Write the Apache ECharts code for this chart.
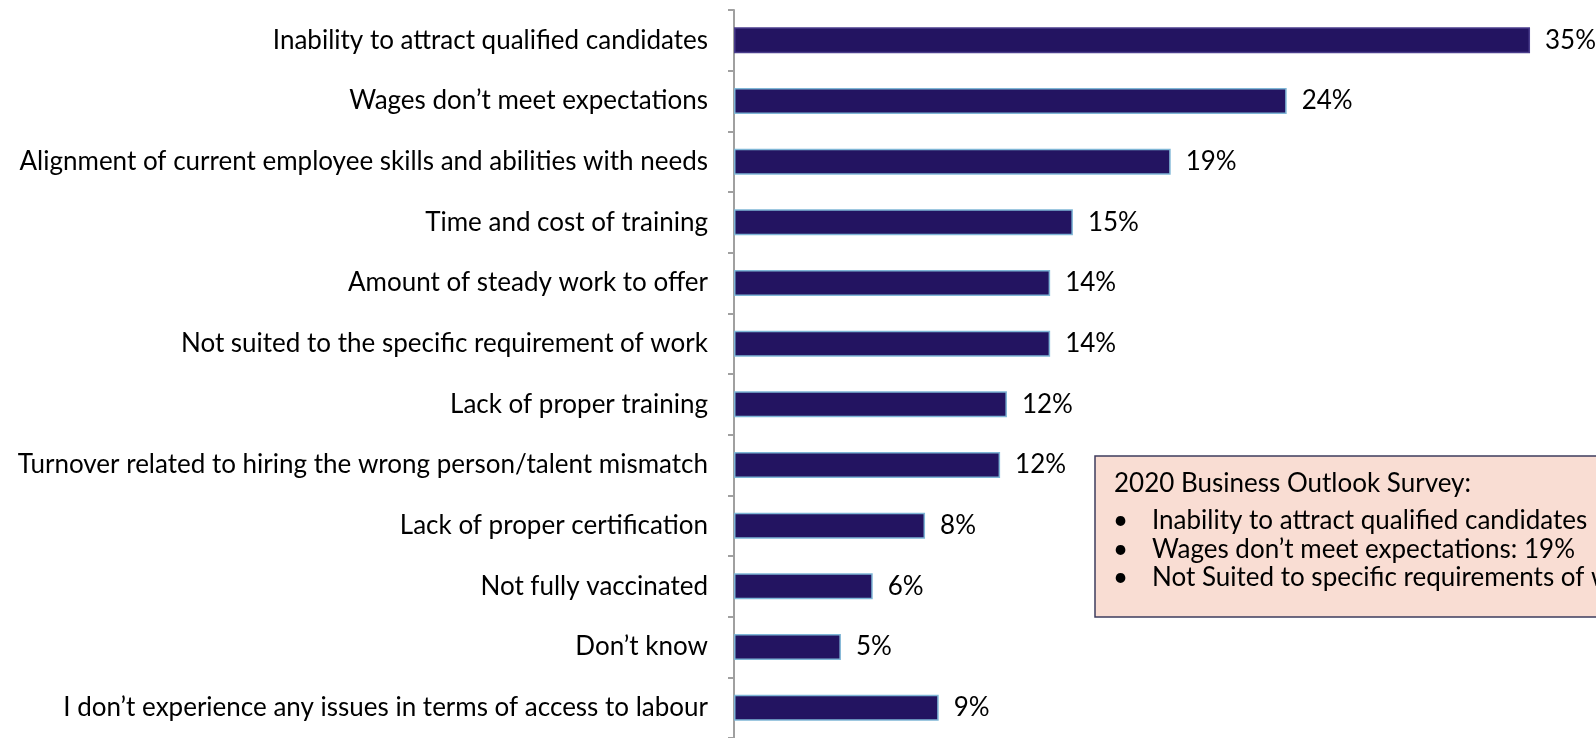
<!DOCTYPE html>
<html>
<head>
<meta charset="utf-8">
<script src="https://cdn.jsdelivr.net/npm/echarts@6/dist/echarts.min.js"></script>
<style>
html,body{margin:0;padding:0;background:#fff;}
#chart{width:1596px;height:738px;}
</style>
</head>
<body>
<div id="chart"></div>
<script>
const categories = [
  "Inability to attract qualified candidates",
  "Wages don\u2019t meet expectations",
  "Alignment of current employee skills and abilities with needs",
  "Time and cost of training",
  "Amount of steady work to offer",
  "Not suited to the specific requirement of work",
  "Lack of proper training",
  "Turnover related to hiring the wrong person/talent mismatch",
  "Lack of proper certification",
  "Not fully vaccinated",
  "Don\u2019t know",
  "I don\u2019t experience any issues in terms of access to labour"
];
const values = [35.0, 24.3, 19.2, 14.9, 13.9, 13.9, 12.0, 11.7, 8.4, 6.1, 4.7, 9.0];
const valueLabels = ["35%", "24%", "19%", "15%", "14%", "14%", "12%", "12%", "8%", "6%", "5%", "9%"];
const noteTitle = "2020 Business Outlook Survey:";
const noteLines = [
  "Inability to attract qualified candidates",
  "Wages don\u2019t meet expectations: 19%",
  "Not Suited to specific requirements of work"
];

const FONT = "Lato";
const FS = 26;
const chart = echarts.init(document.getElementById('chart'), null, {renderer: 'canvas'});

const seriesData = values.map((v, i) => ({
  value: v,
  itemStyle: i === 0
    ? {color: '#231461', borderColor: '#4a3d8c', borderWidth: 1.5}
    : {color: '#231461', borderColor: '#7fb6d6', borderWidth: 1.5}
}));

const graphicEls = [
  {
    type: 'rect',
    shape: {x: 1095, y: 456, width: 620, height: 161},
    style: {fill: '#f9ddd3', stroke: '#3e3c5e', lineWidth: 1.5},
    z: 10
  },
  {
    type: 'text',
    x: 1114, y: 484,
    style: {text: noteTitle, font: FS + 'px ' + FONT, fill: '#000', verticalAlign: 'middle'},
    z: 11
  }
];
noteLines.forEach((t, i) => {
  const y = 521 + i * 28.5;
  graphicEls.push({
    type: 'text', x: 1113, y: y,
    style: {text: '\u2022', font: FS + 'px ' + FONT, fill: '#000', verticalAlign: 'middle'},
    z: 11
  });
  graphicEls.push({
    type: 'text', x: 1152, y: y,
    style: {text: t, font: FS + 'px ' + FONT, fill: '#000', verticalAlign: 'middle'},
    z: 11
  });
});

chart.setOption({
  animation: false,
  backgroundColor: '#ffffff',
  grid: {left: 734, top: 10, right: 0, height: 730, containLabel: false},
  xAxis: {
    type: 'value', min: 0, max: 37.9, show: false
  },
  yAxis: {
    type: 'category',
    data: categories,
    inverse: true,
    axisLine: {show: true, lineStyle: {color: '#a0a0a0', width: 2}},
    axisTick: {show: true, length: 6, lineStyle: {color: '#a0a0a0', width: 2}},
    axisLabel: {
      margin: 26,
      color: '#000',
      fontFamily: FONT,
      fontSize: FS
    },
    splitLine: {show: false}
  },
  series: [{
    type: 'bar',
    data: seriesData,
    barWidth: 26,
    label: {
      show: true,
      position: 'right',
      distance: 15,
      color: '#000',
      fontFamily: FONT,
      fontSize: FS,
      formatter: p => valueLabels[p.dataIndex]
    }
  }],
  graphic: graphicEls
});
</script>
</body>
</html>
